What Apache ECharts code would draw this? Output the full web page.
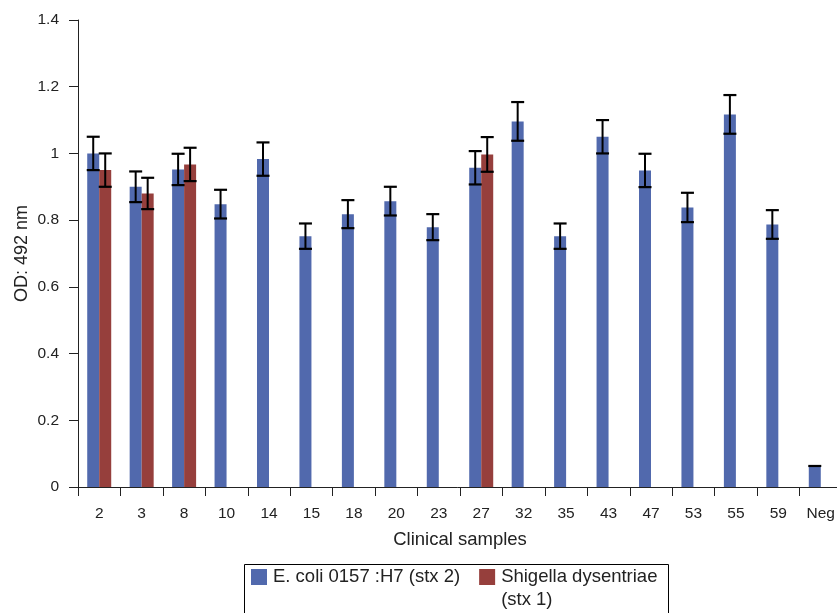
<!DOCTYPE html>
<html>
<head>
<meta charset="utf-8">
<script src="https://cdn.jsdelivr.net/npm/echarts@6/dist/echarts.min.js"></script>
<style>
  html, body { margin: 0; padding: 0; background: #fff; }
  #chart { width: 837px; height: 613px; }
</style>
</head>
<body>
<div id="chart"></div>
<script>
// ---- Data ----
const categories = ['2', '3', '8', '10', '14', '15', '18', '20', '23', '27', '32', '35', '43', '47', '53', '55', '59', 'Neg'];
const ecoliName = 'E. coli 0157 :H7 (stx 2)';
const shigellaName = 'Shigella dysentriae (stx 1)';
const ecoliValues = [1.00, 0.90, 0.952, 0.848, 0.983, 0.752, 0.818, 0.857, 0.779, 0.957, 1.096, 0.752, 1.05, 0.949, 0.838, 1.117, 0.787, 0.063];
const ecoliErrors = [0.05, 0.046, 0.047, 0.043, 0.05, 0.038, 0.042, 0.043, 0.039, 0.05, 0.058, 0.038, 0.05, 0.05, 0.044, 0.058, 0.043, 0];
const shigellaValues = [0.95, 0.88, 0.967, null, null, null, null, null, null, 0.997, null, null, null, null, null, null, null, null];
const shigellaErrors = [0.05, 0.047, 0.05, null, null, null, null, null, null, 0.052, null, null, null, null, null, null, null, null];
const yTicks = [0, 0.2, 0.4, 0.6, 0.8, 1, 1.2, 1.4];

const blue = '#5169AD';
const red = '#963F3C';
const BAR_W = 12;

function errData(vals, errs) {
  const out = [];
  vals.forEach((v, i) => {
    if (v != null && errs[i] != null) out.push([i, v - errs[i], v + errs[i]]);
  });
  return out;
}

function errRender(offset) {
  return function (params, api) {
    const idx = api.value(0);
    const lo = api.coord([idx, api.value(1)]);
    const hi = api.coord([idx, api.value(2)]);
    const x = lo[0] + offset;
    const hw = 6.5;
    const children = [
      { type: 'line', shape: { x1: x - hw, y1: hi[1], x2: x + hw, y2: hi[1] }, style: { stroke: '#000', lineWidth: 2.2 } }
    ];
    if (Math.abs(lo[1] - hi[1]) > 0.5) {
      children.push({ type: 'line', shape: { x1: x, y1: hi[1], x2: x, y2: lo[1] }, style: { stroke: '#000', lineWidth: 2 } });
      children.push({ type: 'line', shape: { x1: x - hw, y1: lo[1], x2: x + hw, y2: lo[1] }, style: { stroke: '#000', lineWidth: 2.2 } });
    }
    return { type: 'group', children };
  };
}

const chart = echarts.init(document.getElementById('chart'), null, { renderer: 'canvas' });
const font = 'Liberation Sans, Arial, Helvetica, sans-serif';

chart.setOption({
  animation: false,
  backgroundColor: '#fff',
  textStyle: { fontFamily: font },
  grid: { left: 78, top: 20, bottom: 126, right: -5, containLabel: false, outerBoundsMode: 'none' },
  xAxis: {
    type: 'category',
    data: categories,
    name: 'Clinical samples',
    nameLocation: 'middle',
    nameGap: 43,
    nameMoveOverlap: false,
    nameTextStyle: { fontSize: 18.5, color: '#222', fontFamily: font },
    axisLine: { lineStyle: { color: '#222', width: 1 } },
    axisTick: { show: true, length: 9, alignWithLabel: false, lineStyle: { color: '#222' } },
    axisLabel: { fontSize: 15.5, color: '#222', margin: 19, fontFamily: font, interval: 0 },
    splitLine: { show: false }
  },
  yAxis: {
    type: 'value',
    min: 0,
    max: 1.4,
    interval: 0.2,
    name: 'OD: 492 nm',
    nameLocation: 'middle',
    nameGap: 47,
    nameMoveOverlap: false,
    nameRotate: 90,
    nameTextStyle: { fontSize: 18, color: '#222', fontFamily: font },
    axisLine: { show: true, lineStyle: { color: '#222', width: 1 } },
    axisTick: { show: true, length: 9, lineStyle: { color: '#222' } },
    axisLabel: {
      fontSize: 15.5, color: '#222', margin: 19, fontFamily: font,
      formatter: v => {
        const t = yTicks.find(k => Math.abs(k - v) < 1e-9);
        return t != null ? String(t) : '';
      }
    },
    splitLine: { show: false }
  },
  legend: {
    left: 251,
    top: 542.5,
    padding: 0,
    itemWidth: 16,
    itemHeight: 16,
    itemGap: 19,
    icon: 'rect',
    textStyle: { fontSize: 18.5, color: '#222', fontFamily: font, lineHeight: 23, padding: [0, 0, 0, 1] },
    data: [ecoliName, shigellaName],
    formatter: name => name === shigellaName ? '\u00a0\nShigella dysentriae\n(stx 1)' : name
  },
  graphic: [{
    type: 'rect',
    left: 242,
    top: 562,
    shape: { width: 424, height: 60 },
    style: { fill: 'none', stroke: '#000', lineWidth: 1 },
    silent: true
  }],
  series: [
    {
      name: ecoliName,
      type: 'bar',
      data: ecoliValues,
      barWidth: BAR_W,
      barGap: '0%',
      itemStyle: { color: blue },
      z: 2
    },
    {
      name: shigellaName,
      type: 'bar',
      data: shigellaValues,
      barWidth: BAR_W,
      barGap: '0%',
      itemStyle: { color: red },
      z: 2
    },
    {
      type: 'custom',
      renderItem: errRender(-BAR_W / 2),
      data: errData(ecoliValues, ecoliErrors),
      encode: { x: 0, y: [1, 2] },
      z: 5,
      silent: true
    },
    {
      type: 'custom',
      renderItem: errRender(BAR_W / 2),
      data: errData(shigellaValues, shigellaErrors),
      encode: { x: 0, y: [1, 2] },
      z: 5,
      silent: true
    }
  ]
});
</script>
</body>
</html>
